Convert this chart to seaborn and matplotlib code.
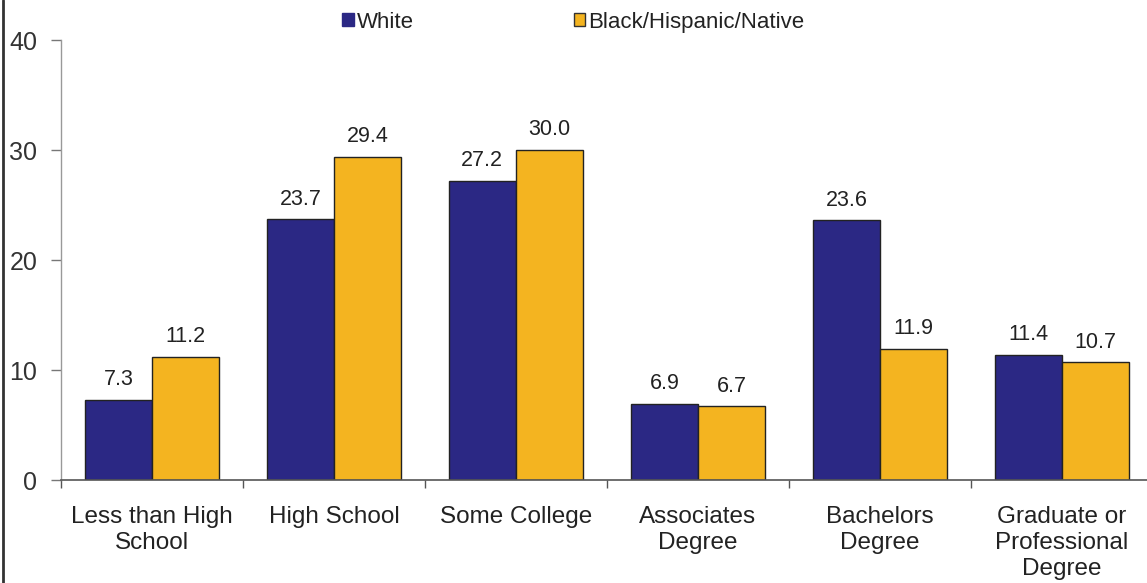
import matplotlib
matplotlib.use("Agg")
import matplotlib.pyplot as plt
from matplotlib.lines import Line2D
from matplotlib.patches import Patch
import seaborn as sns
import pandas as pd

categories = ["Less than High\nSchool", "High School", "Some College",
              "Associates\nDegree", "Bachelors\nDegree",
              "Graduate or\nProfessional\nDegree"]
white = [7.3, 23.7, 27.2, 6.9, 23.6, 11.4]
bhn = [11.2, 29.4, 30.0, 6.7, 11.9, 10.7]
series_names = ["White", "Black/Hispanic/Native"]
yticks = [0, 10, 20, 30, 40]

navy = "#2b2884"
gold = "#f4b420"

df = pd.DataFrame({
    "category": categories * 2,
    "group": [series_names[0]] * len(categories) + [series_names[1]] * len(categories),
    "value": white + bhn,
})

sns.set_theme(style="white")
plt.rcParams["font.family"] = ["Liberation Sans", "DejaVu Sans"]

fig = plt.figure(figsize=(11.47, 5.83), dpi=100)
ax = fig.add_axes([61 / 1147, 1 - 480 / 583, (1153 - 61) / 1147, 440 / 583])

sns.barplot(data=df, x="category", y="value", hue="group",
            palette=[navy, gold], width=0.74, edgecolor="#222222",
            linewidth=1.0, saturation=1, ax=ax, legend=False)

for cont in ax.containers:
    ax.bar_label(cont, fmt="%.1f", padding=7, fontsize=15.5, color="#222222")

ax.set_xlim(-0.5, len(categories) - 0.5)
ax.set_ylim(0, 40)
ax.set_yticks(yticks)
ax.set_xlabel("")
ax.set_ylabel("")

# category separator ticks on the x axis
ax.set_xticks([i + 0.5 for i in range(-1, len(categories))], minor=True)
ax.tick_params(axis="x", which="major", length=0, pad=19, labelsize=17.5, labelcolor="#222222")
ax.tick_params(axis="x", which="minor", length=6, width=1, color="#555555", direction="out", bottom=True)
ax.tick_params(axis="y", length=7, width=1, color="#777777", direction="out", left=True,
               pad=10, labelsize=18, labelcolor="#333333")
for lbl in ax.get_xticklabels():
    lbl.set_linespacing(1.22)

for side in ["top", "right"]:
    ax.spines[side].set_visible(False)
ax.spines["left"].set_color("#999999")
ax.spines["bottom"].set_color("#555555")
ax.spines["left"].set_linewidth(1.0)
ax.spines["bottom"].set_linewidth(1.2)

handles = [Patch(facecolor=navy, edgecolor=navy, label=series_names[0]),
           Patch(facecolor=gold, edgecolor="#333333", label=series_names[1])]
fig.legend(handles=handles, loc="center", bbox_to_anchor=(0.5, 0.962), ncol=2,
           frameon=False, fontsize=16, handlelength=0.5, handleheight=0.5,
           handletextpad=0.15, columnspacing=7.2, labelcolor="#222222")

# outer frame edge on the left
fig.add_artist(Line2D([0.003, 0.003], [0, 1], transform=fig.transFigure,
                      color="#333333", linewidth=2))

fig.savefig("out.png", dpi=100)
